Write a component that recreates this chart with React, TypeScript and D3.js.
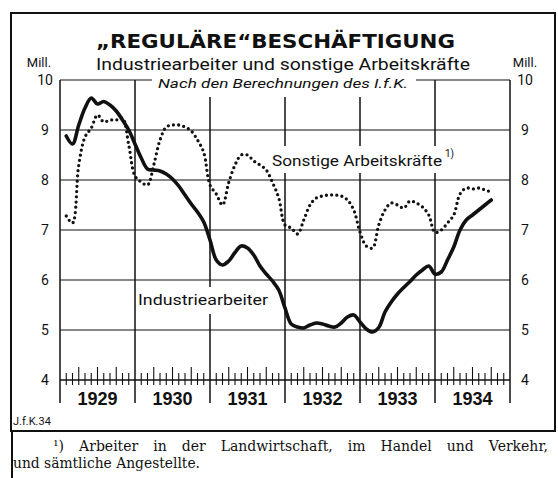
import React, { useRef, useEffect } from 'react';
import * as d3 from 'd3';

// monthly values, Jan 1929 .. Sep 1934 (plotted at month end), in millions
const industrie = [
  8.88, 8.72, 9.1, 9.44, 9.64, 9.52, 9.57, 9.5, 9.38, 9.2, 9.0, 8.72,
  8.44, 8.22, 8.2, 8.18, 8.12, 8.02, 7.88, 7.7, 7.52, 7.36, 7.16, 6.8,
  6.4, 6.3, 6.38, 6.55, 6.68, 6.64, 6.5, 6.28, 6.12, 5.98, 5.8, 5.44,
  5.12, 5.06, 5.04, 5.1, 5.14, 5.12, 5.08, 5.06, 5.14, 5.26, 5.3, 5.16,
  5.02, 4.96, 5.05, 5.36, 5.56, 5.72, 5.85, 5.97, 6.1, 6.2, 6.28, 6.12,
  6.16, 6.4, 6.66, 7.0, 7.2, 7.3, 7.4, 7.5, 7.6,
];
const sonstige = [
  7.28, 7.14, 8.3, 8.86, 9.04, 9.3, 9.16, 9.2, 9.2, 9.24, 8.7, 8.08,
  7.96, 7.9, 8.3, 8.8, 9.06, 9.1, 9.1, 9.06, 8.98, 8.8, 8.55, 7.9,
  7.72, 7.5, 7.95, 8.3, 8.5, 8.5, 8.38, 8.3, 8.2, 7.95, 7.64, 7.1,
  7.04, 6.92, 7.2, 7.5, 7.64, 7.68, 7.7, 7.7, 7.68, 7.6, 7.4, 6.96,
  6.68, 6.64, 7.1, 7.4, 7.54, 7.5, 7.44, 7.58, 7.54, 7.46, 7.3, 6.95,
  7.0, 7.14, 7.3, 7.72, 7.84, 7.82, 7.84, 7.8, 7.76,
];
const years = ['1929', '1930', '1931', '1932', '1933', '1934'];
const yTicks = [4, 5, 6, 7, 8, 9, 10];

const title = '\u201EREGUL\u00C4RE\u201CBESCH\u00C4FTIGUNG';
const subtitle = 'Industriearbeiter und sonstige Arbeitskr\u00E4fte';
const source = 'Nach den Berechnungen des I.f.K.';
const label1 = 'Industriearbeiter';
const label2 = 'Sonstige Arbeitskr\u00E4fte';
const note1 = '\u00B9) Arbeiter in der Landwirtschaft, im Handel und Verkehr,';
const note2 = 'und s\u00E4mtliche Angestellte.';

const SANS = 'Roboto, "Liberation Sans", "DejaVu Sans", sans-serif';
const SERIF = '"DejaVu Serif", "Liberation Serif", serif';
const INK = '#111';

export default function App() {
  const ref = useRef<SVGSVGElement>(null);
  const width = 558, height = 478;

  useEffect(() => {
    const svg = d3.select(ref.current);
    svg.selectAll('*').remove();

    const x = d3.scaleLinear().domain([0, 72]).range([60, 510]);
    const y = d3.scaleLinear().domain([4, 10]).range([380, 80]);

    svg.append('rect').attr('width', width).attr('height', height).attr('fill', '#fff');

    // frame
    svg.append('rect').attr('x', 11).attr('y', 13).attr('width', 544).attr('height', 418)
      .attr('fill', 'none').attr('stroke', INK).attr('stroke-width', 2);
    svg.append('line').attr('x1', 12).attr('x2', 12).attr('y1', 431).attr('y2', height)
      .attr('stroke', INK).attr('stroke-width', 2);

    const g = svg.append('g');

    // horizontal grid
    g.selectAll('line.h').data(yTicks).join('line')
      .attr('x1', x(0)).attr('x2', x(72))
      .attr('y1', d => y(d)).attr('y2', d => y(d))
      .attr('stroke', INK).attr('stroke-width', d => d === 4 ? 1.6 : 1.2);

    // year lines
    g.selectAll('line.v').data(d3.range(0, 73, 12)).join('line')
      .attr('x1', d => x(d)).attr('x2', d => x(d))
      .attr('y1', y(10)).attr('y2', 403)
      .attr('stroke', INK).attr('stroke-width', 1.5);

    // month ticks
    const months = d3.range(1, 72).filter(m => m % 12 !== 0);
    g.selectAll('line.t').data(months).join('line')
      .attr('x1', d => x(d)).attr('x2', d => x(d))
      .attr('y1', d => (d % 3 === 0 ? 367 : 373)).attr('y2', 385)
      .attr('stroke', INK).attr('stroke-width', 1.1);

    // white patches where text interrupts the grid
    const patches = [
      [152, 74, 264, 23],
      [268, 146, 190, 27],
      [136, 287, 134, 27],
    ];
    svg.selectAll('rect.p').data(patches).join('rect')
      .attr('x', d => d[0]).attr('y', d => d[1]).attr('width', d => d[2]).attr('height', d => d[3])
      .attr('fill', '#fff');

    // y labels both sides
    [45, 525].forEach(cx => {
      svg.selectAll(null).data(yTicks).join('text')
        .attr('x', cx).attr('y', d => y(d) + 5)
        .attr('text-anchor', 'middle')
        .style('font-family', SANS).style('font-size', '14px').attr('fill', INK)
        .text(d => d);
      svg.append('text').attr('x', cx < 100 ? 39 : cx).attr('y', 67)
        .attr('text-anchor', 'middle')
        .style('font-family', SANS).style('font-size', '13px').attr('fill', INK)
        .text('Mill.');
    });

    // year labels
    svg.selectAll('text.yr').data(years).join('text')
      .attr('x', (d, i) => x(i * 12 + 6)).attr('y', 405)
      .attr('text-anchor', 'middle')
      .style('font-family', '"Liberation Sans", Arial, sans-serif').style('font-size', '18px')
      .style('font-weight', 'bold').attr('fill', INK)
      .text(d => d);

    // titles
    svg.append('text').attr('x', 96).attr('y', 48).attr('textLength', 359)
      .attr('lengthAdjust', 'spacingAndGlyphs')
      .style('font-family', '"DejaVu Sans", sans-serif').style('font-size', '20px')
      .style('font-weight', 'bold').attr('fill', INK).text(title);
    svg.append('text').attr('x', 96).attr('y', 70).attr('textLength', 374)
      .attr('lengthAdjust', 'spacingAndGlyphs')
      .style('font-family', SANS).style('font-size', '16px').attr('fill', INK).text(subtitle);
    svg.append('text').attr('x', 158).attr('y', 88).attr('textLength', 250)
      .attr('lengthAdjust', 'spacingAndGlyphs')
      .style('font-family', SANS).style('font-size', '13px').style('font-style', 'italic')
      .attr('fill', INK).text(source);

    // series labels
    svg.append('text').attr('x', 138).attr('y', 305).attr('textLength', 130)
      .attr('lengthAdjust', 'spacingAndGlyphs')
      .style('font-family', SANS).style('font-size', '15px').attr('fill', INK).text(label1);
    svg.append('text').attr('x', 272).attr('y', 166).attr('textLength', 170)
      .attr('lengthAdjust', 'spacingAndGlyphs')
      .style('font-family', SANS).style('font-size', '15px').attr('fill', INK).text(label2);
    svg.append('text').attr('x', 445).attr('y', 157)
      .style('font-family', SANS).style('font-size', '10px').attr('fill', INK).text('1)');

    // lines
    const line = d3.line<number>()
      .x((d, i) => x(i + 1))
      .y(d => y(d))
      .curve(d3.curveCatmullRom.alpha(0.5));

    svg.append('path').attr('d', line(sonstige))
      .attr('fill', 'none').attr('stroke', INK).attr('stroke-width', 3.3)
      .attr('stroke-linecap', 'round').attr('stroke-dasharray', '0 5.2');
    svg.append('path').attr('d', line(industrie))
      .attr('fill', 'none').attr('stroke', INK).attr('stroke-width', 3.6)
      .attr('stroke-linejoin', 'round').attr('stroke-linecap', 'round');

    // bottom notes
    svg.append('text').attr('x', 13).attr('y', 425)
      .style('font-family', SANS).style('font-size', '11px').attr('fill', INK).text('J.f.K.34');

    const n1 = svg.append('text').attr('x', 53).attr('y', 451)
      .style('font-family', SERIF).style('font-size', '14px')
      .attr('fill', INK).text(note1);
    const node = n1.node() as SVGTextElement;
    const natural = node.getComputedTextLength();
    const gaps = note1.split(' ').length - 1;
    n1.style('word-spacing', `${Math.max(0, (495 - natural) / gaps)}px`);

    svg.append('text').attr('x', 13).attr('y', 468).attr('textLength', 187)
      .attr('lengthAdjust', 'spacingAndGlyphs')
      .style('font-family', SERIF).style('font-size', '14px')
      .attr('fill', INK).text(note2);
  }, []);

  return (
    <div style={{ position: 'absolute', left: 0, top: 0 }}>
      <svg width={width} height={height} ref={ref} style={{ display: 'block' }} />
    </div>
  );
}
